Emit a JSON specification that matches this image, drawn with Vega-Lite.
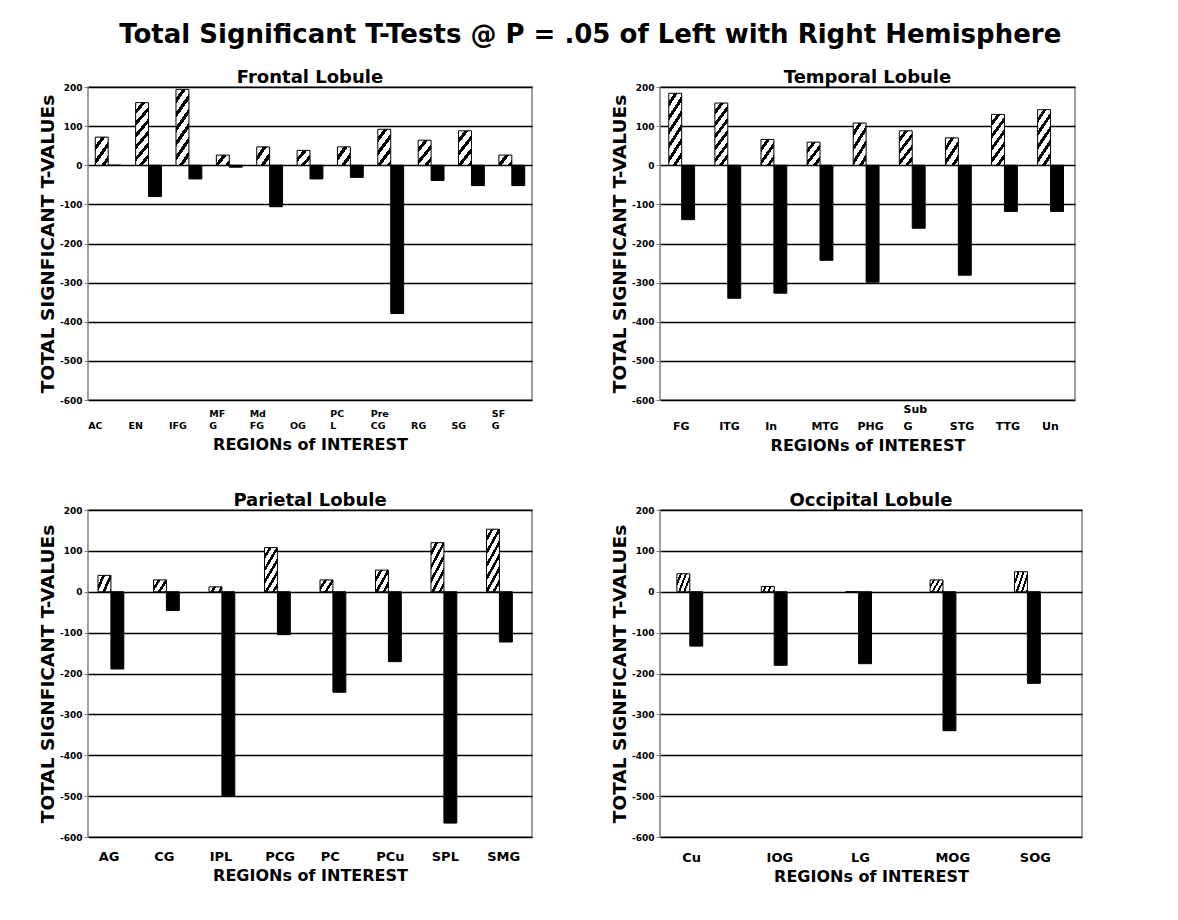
{
  "$schema": "https://vega.github.io/schema/vega-lite/v6.json",
  "padding": {"left": 37, "top": 22, "right": 5, "bottom": 5},
  "background": "white",
  "title": {"text": "Total Significant T-Tests @ P = .05 of Left with Right Hemisphere", "fontSize": 26, "font": "DejaVu Sans", "fontWeight": "bold", "anchor": "middle", "offset": 20, "dx": 30, "color": "black"},
  "datasets": {
    "rois": [
      {"lobe": "Frontal", "region": "AC", "Left": 72, "Right": 0},
      {"lobe": "Frontal", "region": "EN", "Left": 160, "Right": -80},
      {"lobe": "Frontal", "region": "IFG", "Left": 194, "Right": -35},
      {"lobe": "Frontal", "region": "MFG", "Left": 26, "Right": -5},
      {"lobe": "Frontal", "region": "MdFG", "Left": 47, "Right": -106},
      {"lobe": "Frontal", "region": "OG", "Left": 38, "Right": -35},
      {"lobe": "Frontal", "region": "PCL", "Left": 47, "Right": -31},
      {"lobe": "Frontal", "region": "PreCG", "Left": 92, "Right": -379},
      {"lobe": "Frontal", "region": "RG", "Left": 64, "Right": -39},
      {"lobe": "Frontal", "region": "SG", "Left": 88, "Right": -52},
      {"lobe": "Frontal", "region": "SFG", "Left": 26, "Right": -52},
      {"lobe": "Temporal", "region": "FG", "Left": 184, "Right": -139},
      {"lobe": "Temporal", "region": "ITG", "Left": 159, "Right": -340},
      {"lobe": "Temporal", "region": "In", "Left": 66, "Right": -327},
      {"lobe": "Temporal", "region": "MTG", "Left": 59, "Right": -243},
      {"lobe": "Temporal", "region": "PHG", "Left": 108, "Right": -299},
      {"lobe": "Temporal", "region": "SubG", "Left": 88, "Right": -161},
      {"lobe": "Temporal", "region": "STG", "Left": 70, "Right": -281},
      {"lobe": "Temporal", "region": "TTG", "Left": 130, "Right": -118},
      {"lobe": "Temporal", "region": "Un", "Left": 142, "Right": -118},
      {"lobe": "Parietal", "region": "AG", "Left": 40, "Right": -189},
      {"lobe": "Parietal", "region": "CG", "Left": 29, "Right": -46},
      {"lobe": "Parietal", "region": "IPL", "Left": 12, "Right": -499},
      {"lobe": "Parietal", "region": "PCG", "Left": 108, "Right": -105},
      {"lobe": "Parietal", "region": "PC", "Left": 29, "Right": -246},
      {"lobe": "Parietal", "region": "PCu", "Left": 53, "Right": -171},
      {"lobe": "Parietal", "region": "SPL", "Left": 120, "Right": -566},
      {"lobe": "Parietal", "region": "SMG", "Left": 153, "Right": -123},
      {"lobe": "Occipital", "region": "Cu", "Left": 44, "Right": -133},
      {"lobe": "Occipital", "region": "IOG", "Left": 13, "Right": -180},
      {"lobe": "Occipital", "region": "LG", "Left": 0, "Right": -176},
      {"lobe": "Occipital", "region": "MOG", "Left": 29, "Right": -340},
      {"lobe": "Occipital", "region": "SOG", "Left": 49, "Right": -224}
    ]
  },
  "data": {"name": "rois"},
  "columns": 2,
  "bounds": "flush",
  "align": "each",
  "spacing": {"row": 110, "column": 128},
  "concat": [
        {
          "width": 444, "height": 313,
          "title": "Frontal Lobule",
          "transform": [{"filter": "datum.lobe == 'Frontal'"}, {"fold": ["Left", "Right"], "as": ["hemi", "value"]}],
          "mark": {"type": "bar", "stroke": "black", "strokeWidth": 1},
          "encoding": {
            "x": {"field": "region", "type": "nominal", "sort": null, "scale": {"paddingInner": 0.36, "paddingOuter": 0.18},
              "axis": {"title": "REGIONs of INTEREST", "titlePadding": 7, "labelAlign": "left", "labelOffset": -20, "labelBaseline": "bottom", "labelPadding": 18, "labelFontSize": 9.5, "labelLineHeight": 12,
                "labelExpr": "datum.label == 'MFG' ? ['MF','G'] : datum.label == 'MdFG' ? ['Md','FG'] : datum.label == 'PCL' ? ['PC','L'] : datum.label == 'PreCG' ? ['Pre','CG'] : datum.label == 'SFG' ? ['SF','G'] : ['', datum.label]"}},
            "xOffset": {"field": "hemi", "type": "nominal", "sort": ["Left", "Right"]},
            "y": {"field": "value", "type": "quantitative", "scale": {"domain": [-600, 200], "nice": false}, "axis": {"title": "TOTAL SIGNFICANT T-VALUEs"}},
            "fill": {
              "condition": [
                {"test": "datum.hemi == 'Right'", "value": "black"},
                {"test": "datum.value < 35", "value": {"gradient": "linear", "x1": 0, "y1": 0, "x2": 1.174, "y2": 0.714, "stops": [{"offset": 0, "color": "white"}, {"offset": 0.3, "color": "white"}, {"offset": 0.3, "color": "black"}, {"offset": 0.5, "color": "black"}, {"offset": 0.5, "color": "white"}, {"offset": 0.8, "color": "white"}, {"offset": 0.8, "color": "black"}, {"offset": 1, "color": "black"}]}},
                {"test": "datum.value < 56", "value": {"gradient": "linear", "x1": 0, "y1": 0, "x2": 1, "y2": 1, "stops": [{"offset": 0, "color": "white"}, {"offset": 0.24, "color": "white"}, {"offset": 0.24, "color": "black"}, {"offset": 0.4, "color": "black"}, {"offset": 0.4, "color": "white"}, {"offset": 0.64, "color": "white"}, {"offset": 0.64, "color": "black"}, {"offset": 0.8, "color": "black"}, {"offset": 0.8, "color": "white"}, {"offset": 1, "color": "white"}]}},
                {"test": "datum.value < 79", "value": {"gradient": "linear", "x1": 0, "y1": 0, "x2": 0.739, "y2": 1.166, "stops": [{"offset": 0, "color": "white"}, {"offset": 0.182, "color": "white"}, {"offset": 0.182, "color": "black"}, {"offset": 0.303, "color": "black"}, {"offset": 0.303, "color": "white"}, {"offset": 0.485, "color": "white"}, {"offset": 0.485, "color": "black"}, {"offset": 0.606, "color": "black"}, {"offset": 0.606, "color": "white"}, {"offset": 0.788, "color": "white"}, {"offset": 0.788, "color": "black"}, {"offset": 0.909, "color": "black"}, {"offset": 0.909, "color": "white"}, {"offset": 1, "color": "white"}]}},
                {"test": "datum.value < 115", "value": {"gradient": "linear", "x1": 0, "y1": 0, "x2": 0.573, "y2": 1.204, "stops": [{"offset": 0, "color": "white"}, {"offset": 0.15, "color": "white"}, {"offset": 0.15, "color": "black"}, {"offset": 0.25, "color": "black"}, {"offset": 0.25, "color": "white"}, {"offset": 0.4, "color": "white"}, {"offset": 0.4, "color": "black"}, {"offset": 0.5, "color": "black"}, {"offset": 0.5, "color": "white"}, {"offset": 0.65, "color": "white"}, {"offset": 0.65, "color": "black"}, {"offset": 0.75, "color": "black"}, {"offset": 0.75, "color": "white"}, {"offset": 0.9, "color": "white"}, {"offset": 0.9, "color": "black"}, {"offset": 1, "color": "black"}]}}
              ],
              "value": {"gradient": "linear", "x1": 0, "y1": 0, "x2": 0.285, "y2": 1.174, "stops": [{"offset": 0, "color": "white"}, {"offset": 0.091, "color": "white"}, {"offset": 0.091, "color": "black"}, {"offset": 0.152, "color": "black"}, {"offset": 0.152, "color": "white"}, {"offset": 0.242, "color": "white"}, {"offset": 0.242, "color": "black"}, {"offset": 0.303, "color": "black"}, {"offset": 0.303, "color": "white"}, {"offset": 0.394, "color": "white"}, {"offset": 0.394, "color": "black"}, {"offset": 0.455, "color": "black"}, {"offset": 0.455, "color": "white"}, {"offset": 0.545, "color": "white"}, {"offset": 0.545, "color": "black"}, {"offset": 0.606, "color": "black"}, {"offset": 0.606, "color": "white"}, {"offset": 0.697, "color": "white"}, {"offset": 0.697, "color": "black"}, {"offset": 0.758, "color": "black"}, {"offset": 0.758, "color": "white"}, {"offset": 0.848, "color": "white"}, {"offset": 0.848, "color": "black"}, {"offset": 0.909, "color": "black"}, {"offset": 0.909, "color": "white"}, {"offset": 1, "color": "white"}]}
            }
          }
        },
        {
          "width": 415, "height": 313,
          "title": "Temporal Lobule",
          "transform": [{"filter": "datum.lobe == 'Temporal'"}, {"fold": ["Left", "Right"], "as": ["hemi", "value"]}],
          "mark": {"type": "bar", "stroke": "black", "strokeWidth": 1},
          "encoding": {
            "x": {"field": "region", "type": "nominal", "sort": null, "scale": {"paddingInner": 0.38, "paddingOuter": 0.19},
              "axis": {"title": "REGIONs of INTEREST", "titlePadding": 6, "labelAlign": "left", "labelOffset": -10, "labelBaseline": "bottom", "labelPadding": 14, "labelFontSize": 11, "labelLineHeight": 17,
                "labelExpr": "datum.label == 'SubG' ? ['Sub','G'] : ['', datum.label]"}},
            "xOffset": {"field": "hemi", "type": "nominal", "sort": ["Left", "Right"]},
            "y": {"field": "value", "type": "quantitative", "scale": {"domain": [-600, 200], "nice": false}, "axis": {"title": "TOTAL SIGNFICANT T-VALUEs"}},
            "fill": {
              "condition": [
                {"test": "datum.hemi == 'Right'", "value": "black"},
                {"test": "datum.value < 80", "value": {"gradient": "linear", "x1": 0, "y1": 0, "x2": 0.817, "y2": 1.132, "stops": [{"offset": 0, "color": "white"}, {"offset": 0.176, "color": "white"}, {"offset": 0.176, "color": "black"}, {"offset": 0.294, "color": "black"}, {"offset": 0.294, "color": "white"}, {"offset": 0.471, "color": "white"}, {"offset": 0.471, "color": "black"}, {"offset": 0.588, "color": "black"}, {"offset": 0.588, "color": "white"}, {"offset": 0.765, "color": "white"}, {"offset": 0.765, "color": "black"}, {"offset": 0.882, "color": "black"}, {"offset": 0.882, "color": "white"}, {"offset": 1, "color": "white"}]}},
                {"test": "datum.value < 115", "value": {"gradient": "linear", "x1": 0, "y1": 0, "x2": 0.579, "y2": 1.203, "stops": [{"offset": 0, "color": "white"}, {"offset": 0.136, "color": "white"}, {"offset": 0.136, "color": "black"}, {"offset": 0.227, "color": "black"}, {"offset": 0.227, "color": "white"}, {"offset": 0.364, "color": "white"}, {"offset": 0.364, "color": "black"}, {"offset": 0.455, "color": "black"}, {"offset": 0.455, "color": "white"}, {"offset": 0.591, "color": "white"}, {"offset": 0.591, "color": "black"}, {"offset": 0.682, "color": "black"}, {"offset": 0.682, "color": "white"}, {"offset": 0.818, "color": "white"}, {"offset": 0.818, "color": "black"}, {"offset": 0.909, "color": "black"}, {"offset": 0.909, "color": "white"}, {"offset": 1, "color": "white"}]}},
                {"test": "datum.value < 150", "value": {"gradient": "linear", "x1": 0, "y1": 0, "x2": 0.417, "y2": 1.202, "stops": [{"offset": 0, "color": "white"}, {"offset": 0.108, "color": "white"}, {"offset": 0.108, "color": "black"}, {"offset": 0.18, "color": "black"}, {"offset": 0.18, "color": "white"}, {"offset": 0.288, "color": "white"}, {"offset": 0.288, "color": "black"}, {"offset": 0.36, "color": "black"}, {"offset": 0.36, "color": "white"}, {"offset": 0.468, "color": "white"}, {"offset": 0.468, "color": "black"}, {"offset": 0.54, "color": "black"}, {"offset": 0.54, "color": "white"}, {"offset": 0.648, "color": "white"}, {"offset": 0.648, "color": "black"}, {"offset": 0.72, "color": "black"}, {"offset": 0.72, "color": "white"}, {"offset": 0.828, "color": "white"}, {"offset": 0.828, "color": "black"}, {"offset": 0.9, "color": "black"}, {"offset": 0.9, "color": "white"}, {"offset": 1, "color": "white"}]}}
              ],
              "value": {"gradient": "linear", "x1": 0, "y1": 0, "x2": 0.328, "y2": 1.186, "stops": [{"offset": 0, "color": "white"}, {"offset": 0.091, "color": "white"}, {"offset": 0.091, "color": "black"}, {"offset": 0.152, "color": "black"}, {"offset": 0.152, "color": "white"}, {"offset": 0.242, "color": "white"}, {"offset": 0.242, "color": "black"}, {"offset": 0.303, "color": "black"}, {"offset": 0.303, "color": "white"}, {"offset": 0.394, "color": "white"}, {"offset": 0.394, "color": "black"}, {"offset": 0.455, "color": "black"}, {"offset": 0.455, "color": "white"}, {"offset": 0.545, "color": "white"}, {"offset": 0.545, "color": "black"}, {"offset": 0.606, "color": "black"}, {"offset": 0.606, "color": "white"}, {"offset": 0.697, "color": "white"}, {"offset": 0.697, "color": "black"}, {"offset": 0.758, "color": "black"}, {"offset": 0.758, "color": "white"}, {"offset": 0.848, "color": "white"}, {"offset": 0.848, "color": "black"}, {"offset": 0.909, "color": "black"}, {"offset": 0.909, "color": "white"}, {"offset": 1, "color": "white"}]}
            }
          }
        },
        {
          "width": 444, "height": 327,
          "title": "Parietal Lobule",
          "transform": [{"filter": "datum.lobe == 'Parietal'"}, {"fold": ["Left", "Right"], "as": ["hemi", "value"]}],
          "mark": {"type": "bar", "stroke": "black", "strokeWidth": 1},
          "encoding": {
            "x": {"field": "region", "type": "nominal", "sort": null, "scale": {"paddingInner": 0.36, "paddingOuter": 0.18},
              "axis": {"title": "REGIONs of INTEREST", "labelAlign": "left", "labelOffset": -17, "labelBaseline": "bottom", "labelPadding": 26, "labelFontSize": 13}},
            "xOffset": {"field": "hemi", "type": "nominal", "sort": ["Left", "Right"]},
            "y": {"field": "value", "type": "quantitative", "scale": {"domain": [-600, 200], "nice": false}, "axis": {"title": "TOTAL SIGNFICANT T-VALUEs"}},
            "fill": {
              "condition": [
                {"test": "datum.hemi == 'Right'", "value": "black"},
                {"test": "datum.value < 20", "value": {"gradient": "linear", "x1": 0, "y1": 0, "x2": 1.162, "y2": 0.25, "stops": [{"offset": 0, "color": "white"}, {"offset": 0.278, "color": "white"}, {"offset": 0.278, "color": "black"}, {"offset": 0.463, "color": "black"}, {"offset": 0.463, "color": "white"}, {"offset": 0.741, "color": "white"}, {"offset": 0.741, "color": "black"}, {"offset": 0.926, "color": "black"}, {"offset": 0.926, "color": "white"}, {"offset": 1, "color": "white"}]}},
                {"test": "datum.value < 45", "value": {"gradient": "linear", "x1": 0, "y1": 0, "x2": 1.183, "y2": 0.683, "stops": [{"offset": 0, "color": "white"}, {"offset": 0.214, "color": "white"}, {"offset": 0.214, "color": "black"}, {"offset": 0.357, "color": "black"}, {"offset": 0.357, "color": "white"}, {"offset": 0.571, "color": "white"}, {"offset": 0.571, "color": "black"}, {"offset": 0.714, "color": "black"}, {"offset": 0.714, "color": "white"}, {"offset": 0.929, "color": "white"}, {"offset": 0.929, "color": "black"}, {"offset": 1, "color": "black"}]}},
                {"test": "datum.value < 80", "value": {"gradient": "linear", "x1": 0, "y1": 0, "x2": 1.031, "y2": 0.967, "stops": [{"offset": 0, "color": "white"}, {"offset": 0.174, "color": "white"}, {"offset": 0.174, "color": "black"}, {"offset": 0.29, "color": "black"}, {"offset": 0.29, "color": "white"}, {"offset": 0.464, "color": "white"}, {"offset": 0.464, "color": "black"}, {"offset": 0.58, "color": "black"}, {"offset": 0.58, "color": "white"}, {"offset": 0.754, "color": "white"}, {"offset": 0.754, "color": "black"}, {"offset": 0.87, "color": "black"}, {"offset": 0.87, "color": "white"}, {"offset": 1, "color": "white"}]}},
                {"test": "datum.value < 140", "value": {"gradient": "linear", "x1": 0, "y1": 0, "x2": 0.596, "y2": 1.2, "stops": [{"offset": 0, "color": "white"}, {"offset": 0.112, "color": "white"}, {"offset": 0.112, "color": "black"}, {"offset": 0.186, "color": "black"}, {"offset": 0.186, "color": "white"}, {"offset": 0.298, "color": "white"}, {"offset": 0.298, "color": "black"}, {"offset": 0.372, "color": "black"}, {"offset": 0.372, "color": "white"}, {"offset": 0.484, "color": "white"}, {"offset": 0.484, "color": "black"}, {"offset": 0.559, "color": "black"}, {"offset": 0.559, "color": "white"}, {"offset": 0.67, "color": "white"}, {"offset": 0.67, "color": "black"}, {"offset": 0.745, "color": "black"}, {"offset": 0.745, "color": "white"}, {"offset": 0.857, "color": "white"}, {"offset": 0.857, "color": "black"}, {"offset": 0.931, "color": "black"}, {"offset": 0.931, "color": "white"}, {"offset": 1, "color": "white"}]}}
              ],
              "value": {"gradient": "linear", "x1": 0, "y1": 0, "x2": 0.445, "y2": 1.205, "stops": [{"offset": 0, "color": "white"}, {"offset": 0.091, "color": "white"}, {"offset": 0.091, "color": "black"}, {"offset": 0.152, "color": "black"}, {"offset": 0.152, "color": "white"}, {"offset": 0.242, "color": "white"}, {"offset": 0.242, "color": "black"}, {"offset": 0.303, "color": "black"}, {"offset": 0.303, "color": "white"}, {"offset": 0.394, "color": "white"}, {"offset": 0.394, "color": "black"}, {"offset": 0.455, "color": "black"}, {"offset": 0.455, "color": "white"}, {"offset": 0.545, "color": "white"}, {"offset": 0.545, "color": "black"}, {"offset": 0.606, "color": "black"}, {"offset": 0.606, "color": "white"}, {"offset": 0.697, "color": "white"}, {"offset": 0.697, "color": "black"}, {"offset": 0.758, "color": "black"}, {"offset": 0.758, "color": "white"}, {"offset": 0.848, "color": "white"}, {"offset": 0.848, "color": "black"}, {"offset": 0.909, "color": "black"}, {"offset": 0.909, "color": "white"}, {"offset": 1, "color": "white"}]}
            }
          }
        },
        {
          "width": 422, "height": 327,
          "title": "Occipital Lobule",
          "transform": [{"filter": "datum.lobe == 'Occipital'"}, {"fold": ["Left", "Right"], "as": ["hemi", "value"]}],
          "mark": {"type": "bar", "stroke": "black", "strokeWidth": 1},
          "encoding": {
            "x": {"field": "region", "type": "nominal", "sort": null, "scale": {"paddingInner": 0.4, "paddingOuter": 0.2},
              "axis": {"title": "REGIONs of INTEREST", "labelAlign": "left", "labelOffset": -20, "labelBaseline": "bottom", "labelPadding": 27, "labelFontSize": 13}},
            "xOffset": {"field": "hemi", "type": "nominal", "sort": ["Left", "Right"]},
            "y": {"field": "value", "type": "quantitative", "scale": {"domain": [-600, 200], "nice": false}, "axis": {"title": "TOTAL SIGNFICANT T-VALUEs"}},
            "fill": {
              "condition": [
                {"test": "datum.hemi == 'Right'", "value": "black"},
                {"test": "datum.value < 20", "value": {"gradient": "linear", "x1": 0, "y1": 0, "x2": 1.132, "y2": 0.183, "stops": [{"offset": 0, "color": "white"}, {"offset": 0.207, "color": "white"}, {"offset": 0.207, "color": "black"}, {"offset": 0.345, "color": "black"}, {"offset": 0.345, "color": "white"}, {"offset": 0.552, "color": "white"}, {"offset": 0.552, "color": "black"}, {"offset": 0.69, "color": "black"}, {"offset": 0.69, "color": "white"}, {"offset": 0.897, "color": "white"}, {"offset": 0.897, "color": "black"}, {"offset": 1, "color": "black"}]}}
              ],
              "value": {"gradient": "linear", "x1": 0, "y1": 0, "x2": 1.193, "y2": 0.642, "stops": [{"offset": 0, "color": "white"}, {"offset": 0.154, "color": "white"}, {"offset": 0.154, "color": "black"}, {"offset": 0.256, "color": "black"}, {"offset": 0.256, "color": "white"}, {"offset": 0.41, "color": "white"}, {"offset": 0.41, "color": "black"}, {"offset": 0.513, "color": "black"}, {"offset": 0.513, "color": "white"}, {"offset": 0.667, "color": "white"}, {"offset": 0.667, "color": "black"}, {"offset": 0.769, "color": "black"}, {"offset": 0.769, "color": "white"}, {"offset": 0.923, "color": "white"}, {"offset": 0.923, "color": "black"}, {"offset": 1, "color": "black"}]}
            }
          }
        }
  ],
  "config": {
    "font": "DejaVu Sans",
    "view": {"stroke": "#808080", "strokeWidth": 1.5},
    "title": {"fontSize": 18, "fontWeight": "bold", "color": "black", "offset": -4, "font": "DejaVu Sans"},
    "axis": {"labelFont": "DejaVu Sans", "titleFont": "DejaVu Sans", "labelFontWeight": "bold", "titleFontWeight": "bold", "labelColor": "black", "titleColor": "black"},
    "axisX": {"domain": false, "ticks": false, "grid": false, "labelAngle": 0, "titleFontSize": 16, "titlePadding": 4, "labelOverlap": false},
    "axisY": {"values": [-600, -500, -400, -300, -200, -100, 0, 100, 200], "gridColor": "black", "gridWidth": 1.5, "gridOpacity": 1, "domain": false, "tickColor": "#808080", "tickSize": 4, "labelFontSize": 9, "labelPadding": 2, "titleFontSize": 18.5, "titlePadding": 2,
      "labelExpr": "datum.value < 0 ? '-' + abs(datum.value) : '' + datum.value"}
  }
}
